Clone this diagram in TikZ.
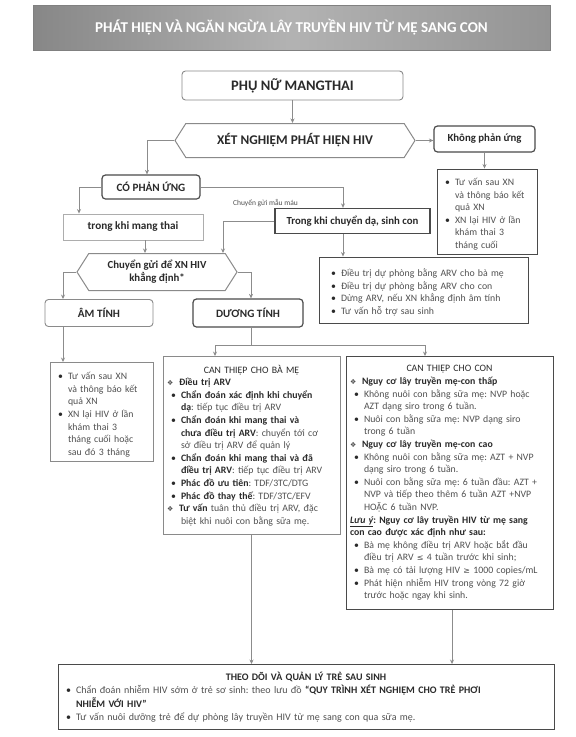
\documentclass[tikz,border=0pt]{standalone}
\usepackage{fontspec}
\setmainfont{Carlito}
\newfontfamily\dejavu{DejaVu Sans}
\usetikzlibrary{shapes.symbols,arrows.meta}
\definecolor{bord}{HTML}{8A8A8A}
\definecolor{dbord}{HTML}{4A4A4A}
\definecolor{txt}{HTML}{2A2A2A}
\definecolor{ltxt}{HTML}{505050}
\definecolor{arrc}{HTML}{8C8C8C}
\newcommand\bb[1]{{\bfseries\color{txt}#1}}
\newcommand\bul[1]{\par\hangindent=14pt\hangafter=1\noindent\hbox to 14pt{\hskip4pt\textcolor{txt}{•}\hfil}#1\par}
\newcommand\dia[1]{\par\hangindent=14pt\hangafter=1\noindent\hbox to 12pt{{\dejavu\fontsize{7}{7}\selectfont\color{ltxt}❖}\hfil}#1\par}
\newcommand\hd[1]{{\centering #1\par}}
\newcommand\djs[1]{{\dejavu\fontsize{8}{8}\selectfont #1}}
\begin{document}
\frenchspacing
\begin{tikzpicture}[x=1pt,y=-1pt,
  base/.style={inner sep=0pt, align=center, text=txt},
  rbox/.style={base, draw=bord, line width=0.9pt, rounded corners=3.5pt},
  dbox/.style={base, draw=dbord, line width=1.2pt, rounded corners=3.5pt},
  sbox/.style={base, draw=bord, line width=0.9pt},
  hexbox/.style={base, signal, signal to=west and east, signal pointer angle=115, draw=bord, line width=1pt},
  tbox/.style={draw=bord, line width=0.9pt, inner xsep=4pt, inner ysep=3pt, align=left, text=ltxt,
     font=\fontsize{9.8}{12.6}\selectfont},
  arr/.style={draw=arrc, line width=0.9pt, -{Stealth[length=4.5pt,width=4pt]}},
  ln/.style={draw=arrc, line width=0.9pt},
  hfont/.style={font=\bfseries\fontsize{11.2}{13}\selectfont}]
\useasboundingbox (0,0) rectangle (576,737);
\fill[white] (0,0) rectangle (576,737);
% title
\node[base, minimum width=517, minimum height=45, left color=black!47, right color=black!42, middle color=black!30,
  draw=black!50, line width=0.6pt, text=white, font=\bfseries\fontsize{15}{17}\selectfont]
  (title) at (291.5,27.5) {PHÁT HIỆN VÀ NGĂN NGỪA LÂY TRUYỀN HIV TỪ MẸ SANG CON};
% top
\node[rbox, minimum width=221, minimum height=29, font=\bfseries\fontsize{14.5}{16}\selectfont] (pn) at (292.5,85.5) {PHỤ NỮ MANGTHAI};
\node[hexbox, minimum width=240, minimum height=34, font=\bfseries\fontsize{13.3}{15}\selectfont] (xn) at (295,140.5) {XÉT NGHIỆM PHÁT HIỆN HIV};
\node[dbox, minimum width=101, minimum height=26, font=\bfseries\fontsize{10.8}{12}\selectfont] (kpu) at (484.5,139) {Không phản ứng};
\node[tbox, draw=dbord, text width=92, minimum height=85] (tv1) at (487,211.5)
 {\bul{Tư vấn sau XN\newline và thông báo kết\newline quả XN}\bul{XN lại HIV ở lần\newline khám thai 3\newline tháng cuối}};
\node[dbox, minimum width=98, minimum height=24, hfont] (cpu) at (151,187) {CÓ PHẢN ỨNG};
\node[sbox, draw=bord!70, minimum width=140, minimum height=26, hfont] (tkmt) at (133,227) {trong khi mang thai};
\node[sbox, draw=dbord, line width=1.3pt, minimum width=155, minimum height=25, font=\bfseries\fontsize{10.8}{12}\selectfont] (tkcd) at (352.5,221) {Trong khi chuyển dạ, sinh con};
\node[base, text=ltxt, font=\fontsize{7.5}{9}\selectfont] (lbl) at (265.5,203) {Chuyển gửi mẫu máu};
\node[tbox, draw=dbord, text width=193, inner xsep=8pt, minimum height=66] (b2) at (423.5,290)
 {\bul{Điều trị dự phòng bằng ARV cho bà mẹ}\bul{Điều trị dự phòng bằng ARV cho con}\bul{Dừng ARV, nếu XN khẳng định âm tính}\bul{Tư vấn hỗ trợ sau sinh}};
\node[hexbox, minimum width=160, minimum height=37, font=\bfseries\fontsize{10.8}{13}\selectfont] (hx2) at (157,272) {Chuyển gửi để XN HIV\\khẳng định*};
\node[rbox, minimum width=108, minimum height=27, hfont] (am) at (99,313) {ÂM TÍNH};
\node[dbox, minimum width=110, minimum height=28, hfont] (dt) at (248,313) {DƯƠNG TÍNH};
\node[tbox, text width=95, minimum height=99] (tv2) at (101.5,412)
 {\bul{Tư vấn sau XN\newline và thông báo kết\newline quả XN}\bul{XN lại HIV ở lần\newline khám thai 3\newline tháng cuối hoặc\newline sau đó 3 tháng}};
\node[tbox, text width=169, minimum height=178] (bm) at (251.5,445.5)
 {\hd{\color{txt}CAN THIỆP CHO BÀ MẸ}
  \dia{\bb{Điều trị ARV}}
  \bul{\bb{Chẩn đoán xác định khi chuyển}\newline\bb{dạ}: tiếp tục điều trị ARV}
  \bul{\bb{Chẩn đoán khi mang thai và}\newline\bb{chưa điều trị ARV}: chuyển tới cơ\newline sở điều trị ARV để quản lý}
  \bul{\bb{Chẩn đoán khi mang thai và đã}\newline\bb{điều trị ARV}: tiếp tục điều trị ARV}
  \bul{\bb{Phác đồ ưu tiên}: TDF/3TC/DTG}
  \bul{\bb{Phác đồ thay thế}: TDF/3TC/EFV}
  \dia{\bb{Tư vấn} tuân thủ điều trị ARV, đặc\newline biệt khi nuôi con bằng sữa mẹ.}};
\node[tbox, draw=dbord, text width=199, minimum height=253] (con) at (449.5,483)
 {\hd{\color{txt}CAN THIỆP CHO CON}
  \dia{\bb{Nguy cơ lây truyền mẹ-con thấp}}
  \bul{Không nuôi con bằng sữa mẹ: NVP hoặc\newline AZT dạng siro trong 6 tuần.}
  \bul{Nuôi con bằng sữa mẹ: NVP dạng siro\newline trong 6 tuần}
  \dia{\bb{Nguy cơ lây truyền mẹ-con cao}}
  \bul{Không nuôi con bằng sữa mẹ: AZT + NVP\newline dạng siro trong 6 tuần.}
  \bul{Nuôi con bằng sữa mẹ: 6 tuần đầu: AZT +\newline NVP và tiếp theo thêm 6 tuần AZT +NVP\newline HOẶC 6 tuần NVP.}
  \par\noindent\bb{\underline{\itshape Lưu ý}: Nguy cơ lây truyền HIV từ mẹ sang\newline con cao được xác định như sau:}\par
  \bul{Bà mẹ không điều trị ARV hoặc bắt đầu\newline điều trị ARV \djs{≤} 4 tuần trước khi sinh;}
  \bul{Bà mẹ có tải lượng HIV \djs{≥} 1000 copies/mL}
  \bul{Phát hiện nhiễm HIV trong vòng 72 giờ\newline trước hoặc ngay khi sinh.}};
\node[tbox, draw=dbord, text width=488, minimum height=65, font=\fontsize{10}{13.5}\selectfont] (bt) at (306,697)
 {\hd{\bb{THEO DÕI VÀ QUẢN LÝ TRẺ SAU SINH}}
  \bul{Chẩn đoán nhiễm HIV sớm ở trẻ sơ sinh: theo lưu đồ \bb{“QUY TRÌNH XÉT NGHIỆM CHO TRẺ PHƠI}\newline\bb{NHIỄM VỚI HIV”}}
  \bul{Tư vấn nuôi dưỡng trẻ để dự phòng lây truyền HIV từ mẹ sang con qua sữa mẹ.}};
% connectors
\coordinate (jm) at (251,345);
\coordinate (jl) at (215,345);
\coordinate (jr) at (425,345);
\draw[arr] (pn.south) -- (pn.south |- xn.north);
\draw[arr] (xn.east) -- (xn.east -| kpu.west);
\draw[arr] (kpu.south) -- (kpu.south |- tv1.north);
\draw[arr] (xn.west) -| ([xshift=-4pt]cpu.north);
\draw[arr] (cpu.west) -| ([xshift=-54pt]tkmt.north);
\draw[arr] (cpu.east) -| ([xshift=-9.5pt]tkcd.north);
\draw[arr] (tkcd.west) -| ([xshift=66pt]hx2.north);
\draw[arr] ([xshift=12pt]tkmt.south) -- ([xshift=12pt]tkmt.south |- hx2.north);
\draw[arr] ([xshift=-9.5pt]tkcd.south) -- ([xshift=-9.5pt]tkcd.south |- b2.north);
\draw[arr] (hx2.west) -| ([xshift=-36pt]am.north);
\draw[arr] (hx2.east) -| ([xshift=3pt]dt.north);
\draw[arr] ([xshift=-36pt]am.south) -- ([xshift=-36pt]am.south |- tv2.north);
\draw[ln] ([xshift=3pt]dt.south) -- (jm);
\draw[ln] (jl) -- (jr);
\draw[arr] (jl) -- (jl |- bm.north);
\draw[arr] (jr) -- (jr |- con.north);
\draw[arr] (bm.south) -- (bm.south |- bt.north);
\draw[arr] ([xshift=2.5pt]con.south) -- ([xshift=2.5pt]con.south |- bt.north);
\end{tikzpicture}
\end{document}
